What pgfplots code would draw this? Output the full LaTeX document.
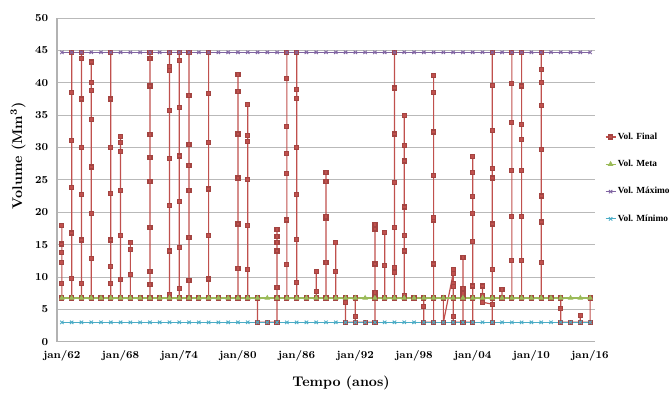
\documentclass[border=0pt]{standalone}
\usepackage{fontspec}
\usepackage{pgfplots}
\pgfplotsset{compat=1.18}
\newfontfamily\legfont{Liberation Serif}
\definecolor{cfinal}{HTML}{C0504D}
\definecolor{cmeta}{HTML}{9BBB59}
\definecolor{cmax}{HTML}{8064A2}
\definecolor{cmin}{HTML}{4BACC6}
\begin{document}
\begin{tikzpicture}
\begin{axis}[
  scale only axis,
  width=403.5pt, height=242.8pt,
  xmin=1961.5, xmax=2016.5,
  ymin=0, ymax=50,
  ytick={0,5,...,50},
  xtick={1962,1968,1974,1980,1986,1992,1998,2004,2010,2016},
  xticklabels={jan/62,jan/68,jan/74,jan/80,jan/86,jan/92,jan/98,jan/04,jan/10,jan/16},
  /pgf/number format/assume math mode=true,
  ticklabel style={font=\fontsize{8}{9}\selectfont\bfseries},
  yticklabel style={xshift=-3pt},
  xticklabel style={yshift=-3pt},
  major tick length=0pt,
  axis x line*=bottom, axis y line*=left,
  axis line style={gray!60, line width=0.8pt, -},
  ymajorgrids, grid style={gray!55, line width=0.7pt},
  xlabel={Tempo (anos)},
  ylabel={Volume (Mm\textsuperscript{3})},
  xlabel style={at={(axis description cs:0.528,-0.128)}, anchor=center, font=\fontsize{10.5}{12}\selectfont\bfseries},
  ylabel style={at={(axis description cs:-0.0725,0.574)}, anchor=center, font=\fontsize{10.5}{12}\selectfont\bfseries},
  legend style={at={(axis description cs:1.0186,0.506)}, anchor=west, draw=none, fill=none, inner sep=0pt, outer sep=0pt,
    font=\legfont\fontsize{7}{8}\selectfont\bfseries, row sep=11.7pt, nodes={inner sep=1.2pt}},
  legend cell align=left,
  legend image code/.code={\draw[mark repeat=2,mark phase=2] plot coordinates {(0pt,0pt) (3.75pt,0pt) (7.5pt,0pt)};},
]
\addplot[color=cfinal, line width=0.9pt, mark=square*, mark size=1.5pt, mark options={solid, fill=cfinal, draw=cfinal!85!black}] coordinates {
(1962,6.75) (1962,9.0) (1962,12.3) (1962,13.8) (1962,15.1) (1962,17.9) (1962,6.75)
(1963,6.75) (1963,9.8) (1963,16.8) (1963,23.8) (1963,31.1) (1963,38.5) (1963,44.7) (1963,6.75)
(1964,6.75) (1964,9.0) (1964,15.7) (1964,22.8) (1964,30.0) (1964,37.5) (1964,43.7) (1964,44.7) (1964,6.75)
(1965,6.75) (1965,12.8) (1965,19.8) (1965,27.0) (1965,34.3) (1965,38.8) (1965,40.0) (1965,43.2) (1965,6.75)
(1966,6.75)
(1967,6.75) (1967,9.0) (1967,11.6) (1967,15.7) (1967,22.9) (1967,30.0) (1967,37.5) (1967,44.7) (1967,6.75)
(1968,6.75) (1968,9.6) (1968,16.4) (1968,23.4) (1968,29.4) (1968,30.8) (1968,31.7) (1968,6.75)
(1969,6.75) (1969,10.4) (1969,14.3) (1969,15.3) (1969,6.75)
(1970,6.75)
(1971,6.75) (1971,8.8) (1971,10.9) (1971,17.6) (1971,24.8) (1971,28.4) (1971,32.0) (1971,39.5) (1971,43.8) (1971,44.7) (1971,6.75)
(1972,6.75)
(1973,6.75) (1973,7.3) (1973,14.0) (1973,21.1) (1973,28.3) (1973,35.7) (1973,41.9) (1973,42.5) (1973,44.7) (1973,6.75)
(1974,6.75) (1974,8.2) (1974,14.5) (1974,21.6) (1974,28.7) (1974,36.2) (1974,43.4) (1974,44.7) (1974,6.75)
(1975,6.75) (1975,9.5) (1975,16.1) (1975,23.3) (1975,27.2) (1975,30.5) (1975,38.0) (1975,44.7) (1975,6.75)
(1976,6.75)
(1977,6.75) (1977,9.7) (1977,16.4) (1977,23.6) (1977,30.8) (1977,38.3) (1977,44.7) (1977,6.75)
(1978,6.75)
(1979,6.75)
(1980,6.75) (1980,11.3) (1980,18.2) (1980,25.3) (1980,32.1) (1980,38.6) (1980,41.3) (1980,6.75)
(1981,6.75) (1981,11.1) (1981,18.0) (1981,25.1) (1981,30.9) (1981,31.9) (1981,36.6) (1981,6.75)
(1982,6.75) (1982,3.0)
(1983,3.0)
(1984,3.0) (1984,8.4) (1984,14.0) (1984,15.3) (1984,16.3) (1984,17.3) (1984,6.75)
(1985,6.75) (1985,11.9) (1985,18.8) (1985,26.0) (1985,29.1) (1985,33.3) (1985,40.7) (1985,44.7) (1985,6.75)
(1986,6.75) (1986,9.1) (1986,15.8) (1986,22.8) (1986,30.0) (1986,37.6) (1986,39.0) (1986,44.7) (1986,6.75)
(1987,6.75)
(1988,6.75) (1988,7.8) (1988,10.9) (1988,6.75)
(1989,6.75) (1989,12.2) (1989,19.1) (1989,19.4) (1989,24.7) (1989,26.2) (1989,6.75)
(1990,6.75) (1990,10.8) (1990,15.3) (1990,6.75)
(1991,6.75) (1991,6.1) (1991,3.0)
(1992,3.0) (1992,3.9) (1992,6.75) (1992,3.0)
(1993,3.0)
(1994,3.0) (1994,7.6) (1994,12.0) (1994,17.4) (1994,18.1) (1994,6.75)
(1995,6.75) (1995,11.8) (1995,16.9) (1995,6.75)
(1996,6.75) (1996,10.7) (1996,11.5) (1996,17.6) (1996,24.6) (1996,32.1) (1996,39.2) (1996,44.7) (1996,6.75)
(1997,6.75) (1997,7.2) (1997,14.0) (1997,16.4) (1997,20.8) (1997,27.9) (1997,30.3) (1997,34.9) (1997,6.75)
(1998,6.75)
(1999,6.75) (1999,5.4) (1999,3.0)
(2000,3.0) (2000,12.0) (2000,18.8) (2000,19.2) (2000,25.7) (2000,32.4) (2000,38.5) (2000,41.1) (2000,6.75)
(2001,6.75) (2001,3.0)
(2002,10.5) (2002,11.2) (2002,9.0) (2002,8.5) (2002,6.75) (2002,3.9) (2002,3.0)
(2003,3.0) (2003,13.0) (2003,8.2) (2003,7.5) (2003,6.75) (2003,3.0)
(2004,3.0) (2004,8.6) (2004,15.5) (2004,19.8) (2004,22.4) (2004,26.2) (2004,28.6) (2004,6.75)
(2005,6.75) (2005,8.6) (2005,7.2) (2005,6.1)
(2006,5.8) (2006,3.0) (2006,11.2) (2006,18.2) (2006,25.3) (2006,26.7) (2006,32.6) (2006,39.6) (2006,44.7) (2006,6.75)
(2007,6.75) (2007,8.1) (2007,6.75)
(2008,6.75) (2008,12.5) (2008,19.4) (2008,26.5) (2008,33.8) (2008,39.9) (2008,44.7) (2008,6.75)
(2009,6.75) (2009,12.5) (2009,19.4) (2009,26.4) (2009,31.2) (2009,33.6) (2009,39.5) (2009,44.7) (2009,6.75)
(2010,6.75)
(2011,6.75) (2011,12.3) (2011,18.5) (2011,22.5) (2011,29.7) (2011,36.5) (2011,40.1) (2011,42.1) (2011,44.7) (2011,6.75)
(2012,6.75)
(2013,6.75) (2013,5.1) (2013,3.0)
(2014,3.0)
(2015,3.0) (2015,4.1) (2015,3.0)
(2016,3.0) (2016,6.75)
};
\addlegendentry{Vol. Final}
\addplot[color=cmeta, line width=0.9pt, mark=triangle*, mark size=1.6pt, mark options={solid, fill=cmeta, draw=cmeta}] coordinates {
(1962,6.75) (1963,6.75) (1964,6.75) (1965,6.75) (1966,6.75) (1967,6.75) (1968,6.75) (1969,6.75) (1970,6.75) (1971,6.75)
(1972,6.75) (1973,6.75) (1974,6.75) (1975,6.75) (1976,6.75) (1977,6.75) (1978,6.75) (1979,6.75) (1980,6.75) (1981,6.75)
(1982,6.75) (1983,6.75) (1984,6.75) (1985,6.75) (1986,6.75) (1987,6.75) (1988,6.75) (1989,6.75) (1990,6.75) (1991,6.75)
(1992,6.75) (1993,6.75) (1994,6.75) (1995,6.75) (1996,6.75) (1997,6.75) (1998,6.75) (1999,6.75) (2000,6.75) (2001,6.75)
(2002,6.75) (2003,6.75) (2004,6.75) (2005,6.75) (2006,6.75) (2007,6.75) (2008,6.75) (2009,6.75) (2010,6.75) (2011,6.75)
(2012,6.75) (2013,6.75) (2014,6.75) (2015,6.75) (2016,6.75)
};
\addlegendentry{Vol. Meta}
\addplot[color=cmax, line width=0.9pt, mark=x, mark size=1.8pt, mark options={solid, line width=0.7pt}] coordinates {
(1962,44.7) (1963,44.7) (1964,44.7) (1965,44.7) (1966,44.7) (1967,44.7) (1968,44.7) (1969,44.7) (1970,44.7) (1971,44.7)
(1972,44.7) (1973,44.7) (1974,44.7) (1975,44.7) (1976,44.7) (1977,44.7) (1978,44.7) (1979,44.7) (1980,44.7) (1981,44.7)
(1982,44.7) (1983,44.7) (1984,44.7) (1985,44.7) (1986,44.7) (1987,44.7) (1988,44.7) (1989,44.7) (1990,44.7) (1991,44.7)
(1992,44.7) (1993,44.7) (1994,44.7) (1995,44.7) (1996,44.7) (1997,44.7) (1998,44.7) (1999,44.7) (2000,44.7) (2001,44.7)
(2002,44.7) (2003,44.7) (2004,44.7) (2005,44.7) (2006,44.7) (2007,44.7) (2008,44.7) (2009,44.7) (2010,44.7) (2011,44.7)
(2012,44.7) (2013,44.7) (2014,44.7) (2015,44.7) (2016,44.7)
};
\addlegendentry{Vol. Máximo}
\addplot[color=cmin, line width=0.9pt, mark=x, mark size=1.8pt, mark options={solid, line width=0.7pt}] coordinates {
(1962,3.0) (1963,3.0) (1964,3.0) (1965,3.0) (1966,3.0) (1967,3.0) (1968,3.0) (1969,3.0) (1970,3.0) (1971,3.0)
(1972,3.0) (1973,3.0) (1974,3.0) (1975,3.0) (1976,3.0) (1977,3.0) (1978,3.0) (1979,3.0) (1980,3.0) (1981,3.0)
(1982,3.0) (1983,3.0) (1984,3.0) (1985,3.0) (1986,3.0) (1987,3.0) (1988,3.0) (1989,3.0) (1990,3.0) (1991,3.0)
(1992,3.0) (1993,3.0) (1994,3.0) (1995,3.0) (1996,3.0) (1997,3.0) (1998,3.0) (1999,3.0) (2000,3.0) (2001,3.0)
(2002,3.0) (2003,3.0) (2004,3.0) (2005,3.0) (2006,3.0) (2007,3.0) (2008,3.0) (2009,3.0) (2010,3.0) (2011,3.0)
(2012,3.0) (2013,3.0) (2014,3.0) (2015,3.0) (2016,3.0)
};
\addlegendentry{Vol. Mínimo}
\end{axis}
\pgfresetboundingbox
\path[use as bounding box] (-42.75pt,-39.2pt) rectangle (459.75pt,256.3pt);
\end{tikzpicture}
\end{document}
